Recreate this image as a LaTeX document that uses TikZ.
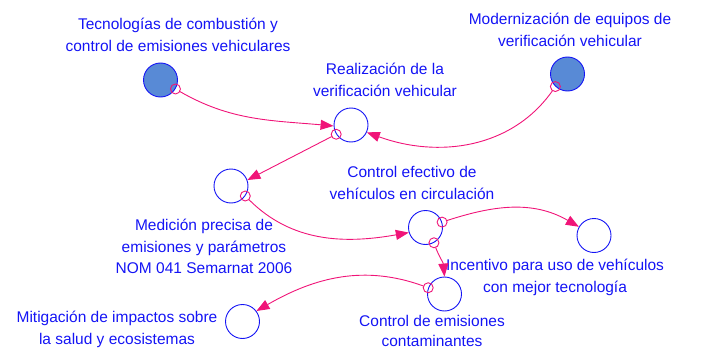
\documentclass[tikz,border=0pt]{standalone}
\usepackage{fontspec}
\setmainfont{Liberation Sans}
\usetikzlibrary{arrows.meta}
\definecolor{lnk}{RGB}{240,20,120}
\definecolor{txt}{RGB}{20,20,245}
\definecolor{fillb}{RGB}{88,138,214}
\begin{document}
\begin{tikzpicture}[x=1pt,y=1pt,
  var/.style={circle,draw=txt,line width=0.9pt,minimum size=34pt,inner sep=0pt,fill=white},
  ext/.style={var,fill=fillb},
  lbl/.style={text=txt,align=center,font=\fontsize{15.5}{21.5}\selectfont,inner sep=0pt},
  lnkarr/.style={draw=lnk,line width=0.9pt,shorten <=5pt,-{Triangle[length=13pt,width=10pt]}},
  lnkdot/.style={draw=lnk,line width=0.9pt}
  ]
\useasboundingbox (0,0) rectangle (702,349);

% variables
\node[ext] (A) at (160.5,269) {};
\node[ext] (B) at (567.5,275) {};
\node[var] (C) at (351,224) {};
\node[var] (D) at (231,163) {};
\node[var] (E) at (425.5,121.5) {};
\node[var] (F) at (594,113.5) {};
\node[var] (G) at (444.5,55) {};
\node[var] (H) at (242.5,27.5) {};

% labels
\node[lbl] (LA) at (178,313) {\strut Tecnologías de combustión y\\\strut control de emisiones vehiculares};
\node[lbl] (LB) at (570,318) {\strut Modernización de equipos de\\\strut verificación vehicular};
\node[lbl] (LC) at (385,268) {\strut Realización de la\\\strut verificación vehicular};
\node[lbl] (LE) at (412,165) {\strut Control efectivo de\\\strut vehículos en circulación};
\node[lbl] (LD) at (204,101) {\strut Medición precisa de\\\strut emisiones y parámetros\\\strut NOM 041 Semarnat 2006};
\node[lbl] (LF) at (555,72) {\strut Incentivo para uso de vehículos\\\strut con mejor tecnología};
\node[lbl,font=\fontsize{15.5}{20.5}\selectfont] (LG) at (432,16.5) {\strut Control de emisiones\\\strut contaminantes};
\node[lbl] (LH) at (117,20) {\strut Mitigación de impactos sobre\\\strut la salud y ecosistemas};

% links
\draw[lnkdot] (A.-31) circle (5pt);
\draw[lnkarr] (A.-31) to[out=-30,in=175] (C.183);

\draw[lnkdot] (B.226) circle (5pt);
\draw[lnkarr] (B.226) to[out=235,in=-20] (C.-25);

\draw[lnkdot] (C.212) circle (5pt);
\draw[lnkarr] (C.212) -- (D.20);

\draw[lnkdot] (D.-35) circle (5pt);
\draw[lnkarr] (D.-35) to[out=-45,in=190] (E.197);

\draw[lnkdot] (E.18) circle (5pt);
\draw[lnkarr] (E.18) to[out=18,in=150] (F.150);

\draw[lnkdot] (E.-61) circle (5pt);
\draw[lnkarr] (E.-61) to[out=-70,in=95] (G.90);

\draw[lnkdot] (G.159) circle (5pt);
\draw[lnkarr] (G.159) to[out=160,in=30] (H.37);
\end{tikzpicture}
\end{document}
